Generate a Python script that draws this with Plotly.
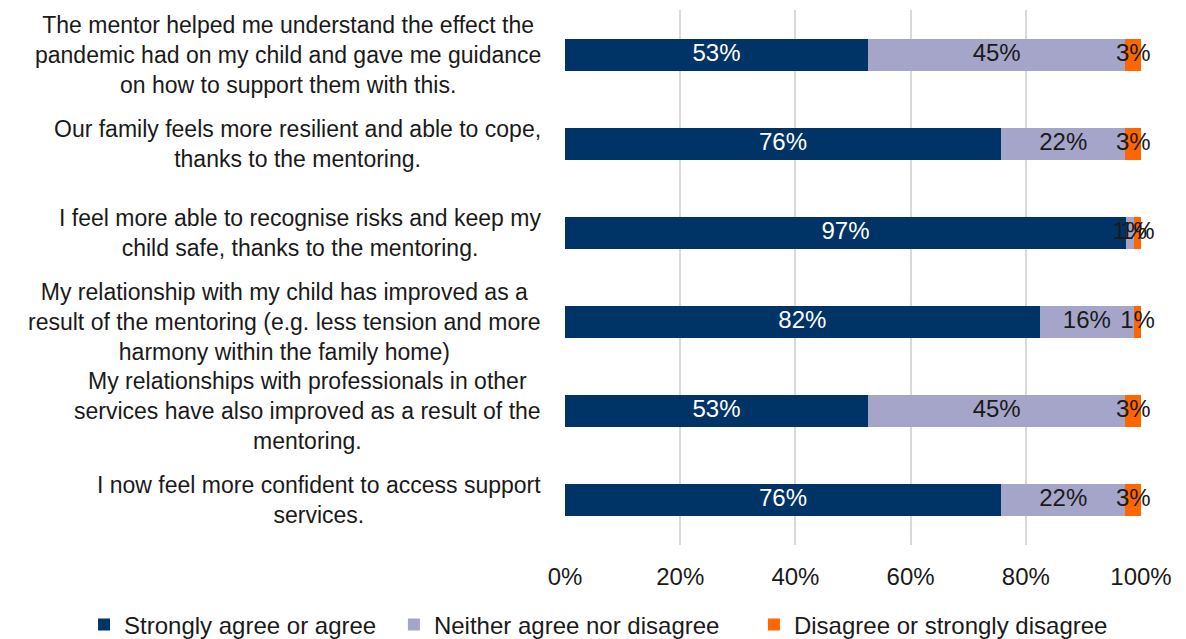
import plotly.graph_objects as go

categories = [
    "The mentor helped me understand the effect the<br>pandemic had on my child and gave me guidance<br>on how to support them with this.",
    "Our family feels more resilient and able to cope,<br>thanks to the mentoring.",
    "I feel more able to recognise risks and keep my<br>child safe, thanks to the mentoring.",
    "My relationship with my child has improved as a<br>result of the mentoring (e.g. less tension and more<br>harmony within the family home)",
    "My relationships with professionals in other<br>services have also improved as a result of the<br>mentoring.",
    "I now feel more confident to access support<br>services.",
]
agree = [52.6, 75.7, 97.4, 82.4, 52.6, 75.7]
neither = [44.7, 21.6, 1.3, 16.4, 44.7, 21.6]
disagree = [2.7, 2.7, 1.3, 1.2, 2.7, 2.7]
series_names = ["Strongly agree or agree", "Neither agree nor disagree", "Disagree or strongly disagree"]
x_ticks = [0, 20, 40, 60, 80, 100]
x_tick_labels = ["0%", "20%", "40%", "60%", "80%", "100%"]

colors = ["#003366", "#A5A5C9", "#FF6600"]
text_colors = ["white", "#1a1a1a", "#1a1a1a"]
FONT = "Liberation Sans, Arial, sans-serif"
legend_ids = ["legend", "legend2", "legend3"]
legend_x = [-0.835, -0.297, 0.328]

fig = go.Figure()
series = [agree, neither, disagree]
for name, vals, c, lg in zip(series_names, series, colors, legend_ids):
    fig.add_trace(go.Bar(
        y=categories, x=vals, name=name, orientation="h",
        marker=dict(color=c, line=dict(width=0)),
        textposition="none", hoverinfo="skip", legend=lg,
    ))

# value labels centred in each segment (positions derived from the data)
base = [0.0] * len(categories)
for vals, tc in zip(series, text_colors):
    centers = [b + v / 2 for b, v in zip(base, vals)]
    fig.add_trace(go.Scatter(
        x=centers, y=categories, mode="text",
        text=[f"{round(v)}%" for v in vals],
        textposition="middle center",
        textfont=dict(color=tc, size=24, family=FONT),
        showlegend=False, hoverinfo="skip", cliponaxis=False,
    ))
    base = [b + v for b, v in zip(base, vals)]

# category labels: centred text blocks, right edge near the axis
for cat in categories:
    fig.add_annotation(x=-0.038, xref="paper", y=cat, yref="y", text=cat,
                       xanchor="right", yanchor="middle", align="center",
                       showarrow=False, font=dict(size=23, family=FONT, color="#1a1a1a"))

legend_common = dict(orientation="h", xref="paper", xanchor="left",
                     yref="paper", y=-0.1495, yanchor="middle",
                     font=dict(size=24, family=FONT), itemwidth=30)

fig.update_layout(
    barmode="stack", bargap=0.64,
    width=1186, height=639,
    margin=dict(l=565, r=45, t=10, b=94, autoexpand=False),
    paper_bgcolor="white", plot_bgcolor="white",
    font=dict(family=FONT, size=23, color="#1a1a1a"),
    showlegend=True,
    legend=dict(x=legend_x[0], **legend_common),
    legend2=dict(x=legend_x[1], **legend_common),
    legend3=dict(x=legend_x[2], **legend_common),
)
fig.update_xaxes(range=[0, 100], tickvals=x_ticks, ticktext=x_tick_labels,
                 showgrid=True, gridcolor="#D9D9D9", gridwidth=2,
                 zeroline=False, showline=False, ticks="", ticklabelstandoff=15,
                 tickfont=dict(size=24, family=FONT))
fig.update_yaxes(autorange="reversed", showgrid=False, showline=False, ticks="",
                 showticklabels=False)

fig.write_html("out.html")
